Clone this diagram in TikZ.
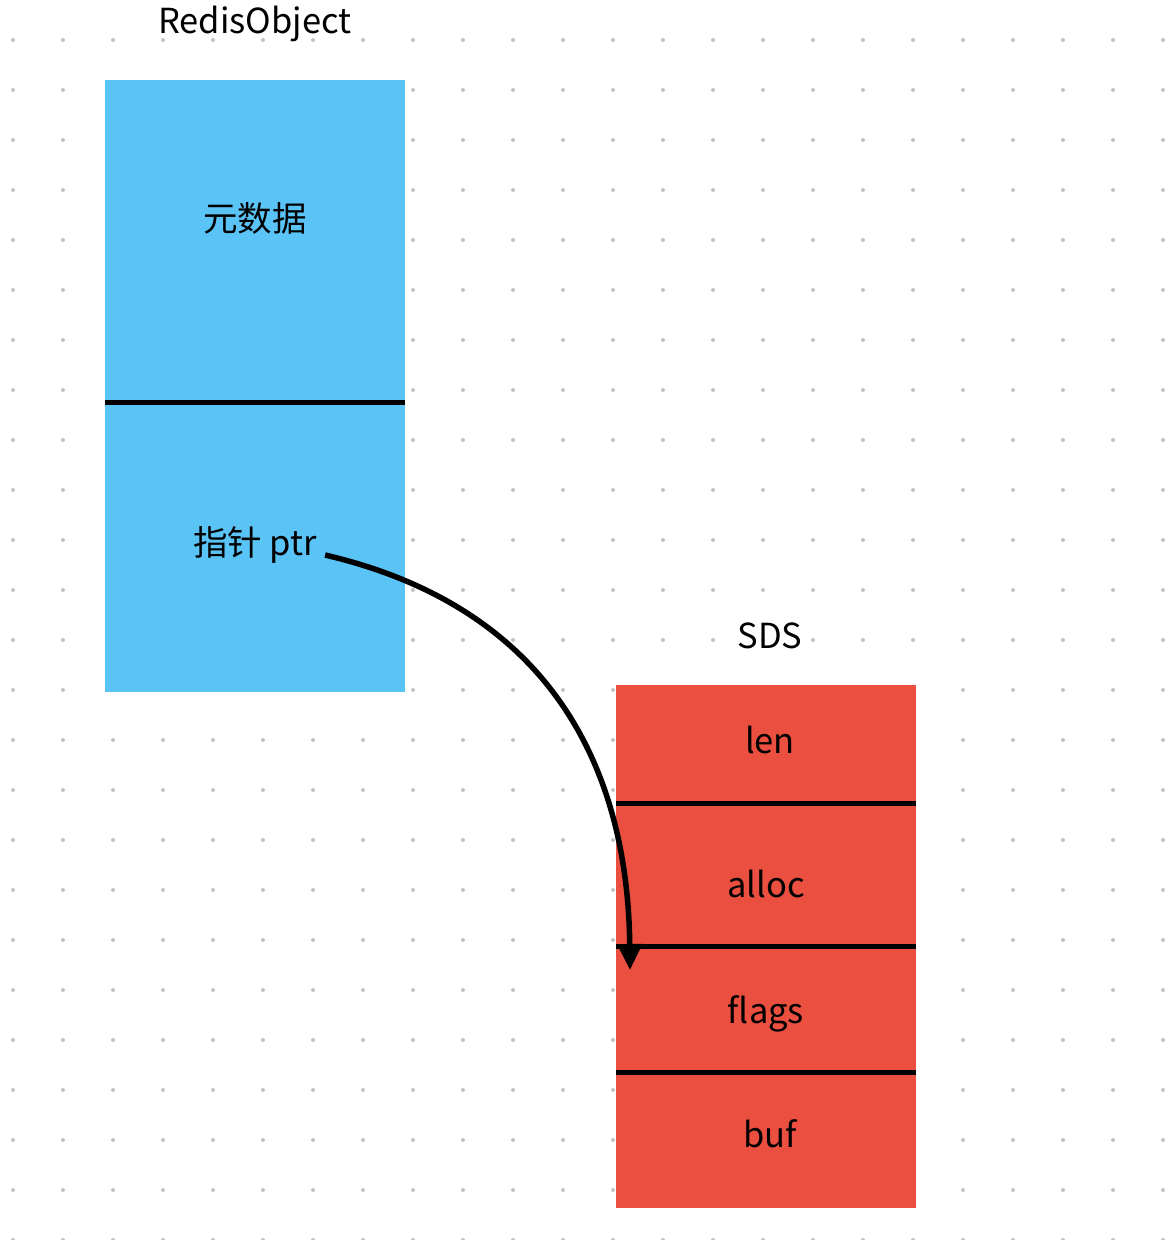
\documentclass[tikz,border=0pt]{standalone}
\usepackage{fontspec}
\setmainfont{Noto Sans CJK SC}
\usepackage{tikz}
\usetikzlibrary{arrows.meta,calc,positioning}
\definecolor{objblue}{HTML}{5AC4F7}
\definecolor{sdsred}{HTML}{EB4F40}
\definecolor{dotgrey}{HTML}{C4C4C4}
\tikzset{
  obj cell/.style  = {fill=objblue},
  sds cell/.style  = {fill=sdsred},
  divider/.style   = {black, line width=5pt},
  field text/.style = {font=\fontsize{34.5}{40}\selectfont, inner sep=0pt},
  link/.style      = {-{Triangle[length=26pt,width=24pt]}, black, line width=5.5pt},
}

\begin{document}
\begin{tikzpicture}[x=1pt,y=-1pt]
      \useasboundingbox (0,0) rectangle (1168,1240);
      \fill[white] (0,0) rectangle (1168,1240);
      % dot grid
      \foreach \i in {0,...,23}
        \foreach \j in {0,...,24}
          \fill[dotgrey] (13+50*\i,40+50*\j) circle (2);
      % RedisObject
      \fill[obj cell] (105,80) rectangle (405,692);
      \draw[divider] (105,402) -- (405,402);
      \node[field text] (objtitle) at (255,24) {RedisObject};
      \node[field text] (meta) at (255,218) {元数据};
      \node[field text] (ptr) at (255,545) {指针 ptr};
      % SDS
      \fill[sds cell] (616,685) rectangle (916,1208);
      \draw[divider] (616,803) -- (916,803);
      \draw[divider] (616,946) -- (916,946);
      \draw[divider] (616,1072) -- (916,1072);
      \node[field text] (sdstitle) at (770,636) {SDS};
      \node[field text] (len) at (770,740) {len};
      \node[field text] (alloc) at (766,884) {alloc};
      \node[field text] (flags) at (766,1014) {flags};
      \node[field text] (buf) at (770,1134) {buf};
      \coordinate (flagstop) at (630,970);
      \draw[link] ($(ptr.east)+(8,10)$) .. controls (560,610) and (628,780) .. (flagstop);
    \end{tikzpicture}
\end{document}
